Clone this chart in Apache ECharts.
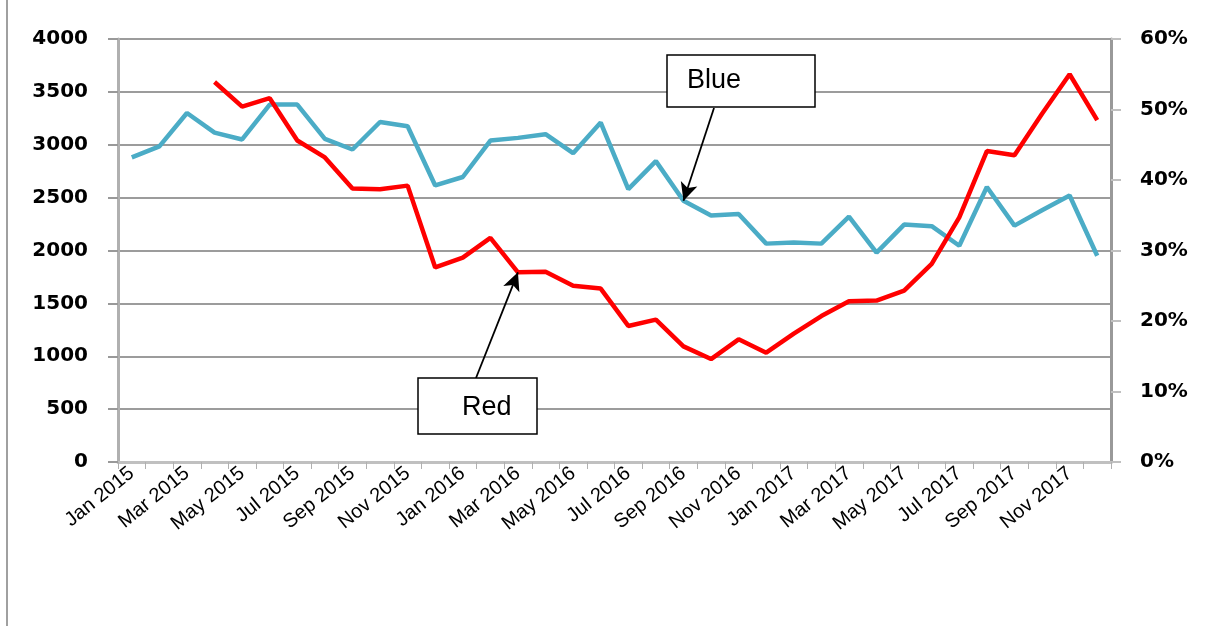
<!DOCTYPE html>
<html>
<head>
<meta charset="utf-8">
<script src="https://cdn.jsdelivr.net/npm/echarts@6/dist/echarts.min.js"></script>
<style>
  html, body { margin: 0; padding: 0; background: #fff; }
  #chart { width: 1208px; height: 626px; }
</style>
</head>
<body>
<div id="chart"></div>
<script>
// Monthly categories, Jan 2015 – Dec 2017
const months = [
  'Jan 2015','Feb 2015','Mar 2015','Apr 2015','May 2015','Jun 2015','Jul 2015','Aug 2015','Sep 2015','Oct 2015','Nov 2015','Dec 2015',
  'Jan 2016','Feb 2016','Mar 2016','Apr 2016','May 2016','Jun 2016','Jul 2016','Aug 2016','Sep 2016','Oct 2016','Nov 2016','Dec 2016',
  'Jan 2017','Feb 2017','Mar 2017','Apr 2017','May 2017','Jun 2017','Jul 2017','Aug 2017','Sep 2017','Oct 2017','Nov 2017','Dec 2017'
];

// Blue series: counts on the left axis
const blueValues = [
  2880, 2985, 3300, 3115, 3050, 3380, 3380, 3055, 2955, 3215, 3175, 2615,
  2695, 3040, 3065, 3100, 2920, 3210, 2580, 2845, 2470, 2330, 2345, 2065,
  2075, 2065, 2320, 1980, 2245, 2230, 2045, 2600, 2235, 2380, 2520, 1950
];

// Red series: percentages on the right axis (starts in Apr 2015)
const redValues = [
  null, null, null, 53.9, 50.4, 51.6, 45.6, 43.2, 38.8, 38.7, 39.2, 27.6,
  29.0, 31.8, 26.9, 27.0, 25.0, 24.6, 19.3, 20.2, 16.4, 14.6, 17.4, 15.5,
  18.2, 20.7, 22.8, 22.9, 24.3, 28.1, 34.7, 44.1, 43.5, 49.4, 55.0, 48.5
];

// Axis ranges
const leftTicks = { min: 0, max: 4000, interval: 500 };
const rightTicks = { min: 0, max: 60, interval: 10 };

// Callout targets
const blueCallout = { month: 'Sep 2016', text: 'Blue' };
const redCallout = { month: 'Mar 2016', text: 'Red' };

const chart = echarts.init(document.getElementById('chart'), null, { renderer: 'canvas' });

const axisLabelFont = {
  fontFamily: 'DejaVu Sans',
  fontWeight: 'bold',
  fontSize: 20,
  color: '#000'
};

const blueIdx = months.indexOf(blueCallout.month);
const redIdx = months.indexOf(redCallout.month);

const calloutArrow = {
  silent: true,
  symbol: ['none', 'arrow'],
  symbolSize: [13, 18],
  label: { show: false },
  lineStyle: { color: '#000', width: 1.8, type: 'solid' }
};

function calloutBox(x, y, w, h, tx, ty, text) {
  return {
    type: 'group',
    z: 100,
    children: [
      {
        type: 'rect', z: 100,
        shape: { x: x, y: y, width: w, height: h },
        style: { fill: '#fff', stroke: '#000', lineWidth: 1.5 }
      },
      {
        type: 'text', z: 101,
        x: tx, y: ty,
        style: {
          text: text,
          font: '27px "Liberation Sans", Arial, sans-serif',
          fill: '#000',
          verticalAlign: 'middle'
        }
      }
    ]
  };
}

const option = {
  animation: false,
  backgroundColor: '#ffffff',
  grid: { left: 118, right: 97, top: 39, bottom: 164, containLabel: false },
  xAxis: {
    type: 'category',
    data: months,
    boundaryGap: true,
    axisLine: { show: true, lineStyle: { color: '#c0c0c0', width: 3 } },
    axisTick: { show: true, interval: 0, length: 7, lineStyle: { color: '#b0b0b0', width: 1 } },
    axisLabel: {
      interval: 1,
      rotate: 39,
      margin: 9,
      fontFamily: 'Liberation Sans',
      fontSize: 20,
      color: '#000'
    },
    splitLine: { show: false }
  },
  yAxis: [
    {
      type: 'value',
      min: leftTicks.min, max: leftTicks.max, interval: leftTicks.interval,
      position: 'left',
      axisLine: { show: true, lineStyle: { color: '#b0b0b0', width: 3 } },
      axisTick: { show: true, length: 10, lineStyle: { color: '#999', width: 2 } },
      axisLabel: Object.assign({ margin: 30, formatter: function (v) { return String(v); } }, axisLabelFont),
      splitLine: { show: true, lineStyle: { color: '#9c9c9c', width: 2 } }
    },
    {
      type: 'value',
      min: rightTicks.min, max: rightTicks.max, interval: rightTicks.interval,
      position: 'right',
      axisLine: { show: true, lineStyle: { color: '#999', width: 3 } },
      axisTick: { show: true, length: 10, lineStyle: { color: '#c0c0c0', width: 2 } },
      axisLabel: Object.assign({ margin: 29, formatter: '{value}%' }, axisLabelFont),
      splitLine: { show: false }
    }
  ],
  series: [
    {
      name: 'Blue',
      type: 'line',
      yAxisIndex: 0,
      data: blueValues,
      showSymbol: false,
      symbol: 'none',
      lineStyle: { color: '#4bacc6', width: 4.5 },
      itemStyle: { color: '#4bacc6' },
      z: 3,
      markLine: Object.assign({}, calloutArrow, {
        data: [[
          { x: 714, y: 108 },
          { coord: [blueIdx, blueValues[blueIdx]] }
        ]]
      })
    },
    {
      name: 'Red',
      type: 'line',
      yAxisIndex: 1,
      data: redValues,
      showSymbol: false,
      symbol: 'none',
      connectNulls: false,
      lineStyle: { color: '#ff0000', width: 4.5 },
      itemStyle: { color: '#ff0000' },
      z: 4,
      markLine: Object.assign({}, calloutArrow, {
        data: [[
          { x: 476, y: 378 },
          { coord: [redIdx, redValues[redIdx]] }
        ]]
      })
    }
  ],
  graphic: [
    // outer frame edge on the left
    {
      type: 'line', z: 100,
      shape: { x1: 7, y1: 0, x2: 7, y2: 626 },
      style: { stroke: '#a0a0a0', lineWidth: 2 }
    },
    calloutBox(667, 55, 148, 52, 687, 81, blueCallout.text),
    calloutBox(418, 378, 119, 56, 462, 408, redCallout.text)
  ]
};

chart.setOption(option);
</script>
</body>
</html>
